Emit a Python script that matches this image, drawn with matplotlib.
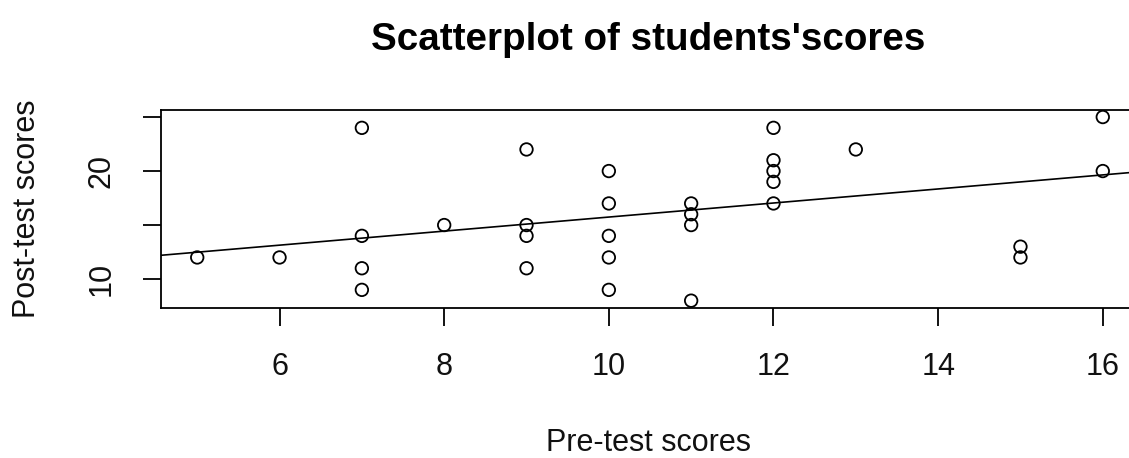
import numpy as np
import matplotlib
matplotlib.use("Agg")
import matplotlib.pyplot as plt

plt.rcParams['font.family'] = ['Liberation Sans', 'DejaVu Sans']

# Pre-test / post-test scores of the students
pre_scores = [5, 6, 7, 7, 7, 7, 8, 9, 9, 9, 9,
              10, 10, 10, 10, 10, 11, 11, 11, 11,
              12, 12, 12, 12, 12, 13, 15, 15, 16, 16]
post_scores = [12, 12, 24, 14, 11, 9, 15, 22, 15, 14, 11,
               20, 17, 14, 12, 9, 17, 16, 15, 8,
               24, 21, 20, 19, 17, 22, 13, 12, 25, 20]

x_ticks = [6, 8, 10, 12, 14, 16]
y_ticks = [10, 15, 20, 25]
y_tick_labels = ["10", "", "20", ""]

title = "Scatterplot of students'scores"
x_label = "Pre-test scores"
y_label = "Post-test scores"

W, H = 1129, 458
fig = plt.figure(figsize=(W / 100, H / 100), dpi=100)

# axes box in pixel coordinates (right edge runs past the figure edge)
left_px, right_px, top_px, bottom_px = 161, 1139, 109.7, 308
ax = fig.add_axes([left_px / W, 1 - bottom_px / H,
                   (right_px - left_px) / W, (bottom_px - top_px) / H])

x = np.array(pre_scores, dtype=float)
y = np.array(post_scores, dtype=float)

ax.scatter(x, y, s=9.0 ** 2, facecolors='none', edgecolors='black',
           linewidths=1.3, zorder=3)

# least-squares regression line
slope, intercept = np.polyfit(x, y, 1)
ax.axline((0, intercept), slope=slope, color='black', linewidth=1.2, zorder=2)

# R-style 4% padding of the data range
def padded(vals):
    lo, hi = min(vals), max(vals)
    d = (hi - lo) * 0.04
    return lo - d, hi + d

ax.set_xlim(*padded(pre_scores))
ax.set_ylim(*padded(post_scores))

ax.set_xticks(x_ticks)
ax.set_xticklabels([str(t) for t in x_ticks])
ax.set_yticks(y_ticks)
ax.set_yticklabels(y_tick_labels, rotation=90, va='center')

for s in ax.spines.values():
    s.set_linewidth(1.3)
    s.set_color('black')

ax.tick_params(axis='both', direction='out', length=13, width=1.3,
               labelsize=22, colors='black')
ax.tick_params(axis='x', pad=19)
ax.tick_params(axis='y', pad=19)
for lbl in ax.get_xticklabels() + ax.get_yticklabels():
    lbl.set_color('#111111')

ax.set_xlabel(x_label, fontsize=22, color='#111111')
ax.set_ylabel(y_label, fontsize=22, color='#111111')
ax.xaxis.label.set_va('center')
ax.yaxis.label.set_va('center')
ax.xaxis.set_label_coords(649 / W, 1 - 443 / H, transform=fig.transFigure)
ax.yaxis.set_label_coords(27 / W, 1 - 209 / H, transform=fig.transFigure)

fig.text(648 / W, 1 - 50 / H, title, ha='center', va='baseline',
         fontsize=27.8, fontweight='bold')

fig.savefig("out.png", dpi=100, facecolor='white')
